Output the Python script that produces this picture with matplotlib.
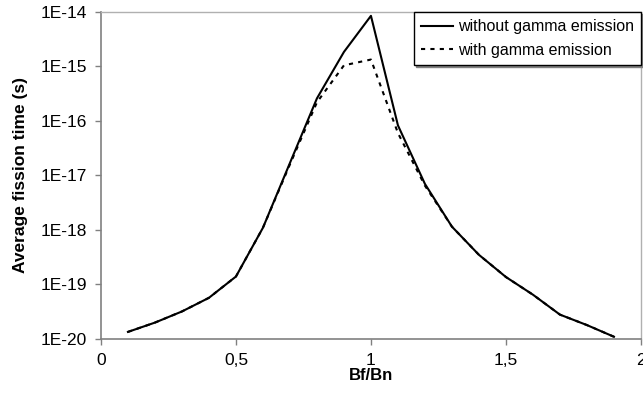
import math
import matplotlib
matplotlib.use('Agg')
import matplotlib.pyplot as plt
from matplotlib.ticker import FixedLocator, FuncFormatter

# Bf/Bn ratio
bf_bn = [0.1, 0.2, 0.3, 0.4, 0.5, 0.6, 0.7, 0.8, 0.9, 1.0, 1.1, 1.2, 1.3, 1.4, 1.5, 1.6, 1.7, 1.8, 1.9]
# average fission time (s) without gamma emission
t_no_gamma = [1.35e-20, 2.0e-20, 3.2e-20, 5.7e-20, 1.4e-19, 1.1e-18, 1.7e-17, 2.6e-16, 1.85e-15, 8.5e-15,
              8.3e-17, 7.0e-18, 1.15e-18, 3.5e-19, 1.37e-19, 6.5e-20, 2.8e-20, 1.8e-20, 1.1e-20]
# average fission time (s) with gamma emission
t_gamma = [1.35e-20, 2.0e-20, 3.2e-20, 5.7e-20, 1.4e-19, 1.1e-18, 1.6e-17, 2.2e-16, 1.05e-15, 1.34e-15,
           6.0e-17, 6.5e-18, 1.15e-18, 3.5e-19, 1.37e-19, 6.5e-20, 2.8e-20, 1.8e-20, 1.1e-20]

x_ticks = [0, 0.5, 1, 1.5, 2]
x_tick_labels = ['0', '0,5', '1', '1,5', '2']
y_ticks = [1e-20, 1e-19, 1e-18, 1e-17, 1e-16, 1e-15, 1e-14]

plt.rcParams['font.family'] = ['Liberation Sans', 'DejaVu Sans']

fig = plt.figure(figsize=(6.43, 3.94), dpi=100)
ax = fig.add_axes([0.157, 0.1396, 0.8398, 0.83])

ax.plot(bf_bn, t_no_gamma, color='black', lw=1.5, label='without gamma emission')
ax.plot(bf_bn, t_gamma, color='black', lw=1.5, linestyle=(0, (2, 2.5)), label='with gamma emission')

ax.set_yscale('log')
ax.set_xlim(0, 2)
ax.set_ylim(1e-20, 1e-14)
ax.yaxis.set_major_locator(FixedLocator(y_ticks))
ax.yaxis.set_minor_locator(FixedLocator([]))
ax.yaxis.set_major_formatter(FuncFormatter(lambda v, p: '1E%d' % round(math.log10(v))))
ax.set_xticks(x_ticks)
ax.set_xticklabels(x_tick_labels)
ax.tick_params(axis='both', direction='out', length=4, width=1, colors='#808080', labelcolor='black', labelsize=12.5)
ax.tick_params(axis='y', pad=6)
ax.tick_params(axis='x', pad=6)

for s in ['left', 'bottom']:
    ax.spines[s].set_color('#808080')
    ax.spines[s].set_linewidth(1.2)
for s in ['top', 'right']:
    ax.spines[s].set_color('#b0b0b0')
    ax.spines[s].set_linewidth(1)

ax.set_xlabel('Bf/Bn', fontweight='bold', fontsize=12, labelpad=0)
ax.set_ylabel('Average fission time (s)', fontweight='bold', fontsize=12.5, labelpad=9)

leg = ax.legend(loc='upper right', bbox_to_anchor=(1.0, 1.0), fontsize=11.5, frameon=True, fancybox=False,
                shadow={'ox': 1.5, 'oy': -1.5, 'color': '#808080', 'alpha': 1}, borderaxespad=0,
                handlelength=2.0, handletextpad=0.3, borderpad=0.45, labelspacing=0.55)
leg.get_frame().set_edgecolor('black')
leg.get_frame().set_linewidth(1)

fig.savefig('out.png', dpi=100)
